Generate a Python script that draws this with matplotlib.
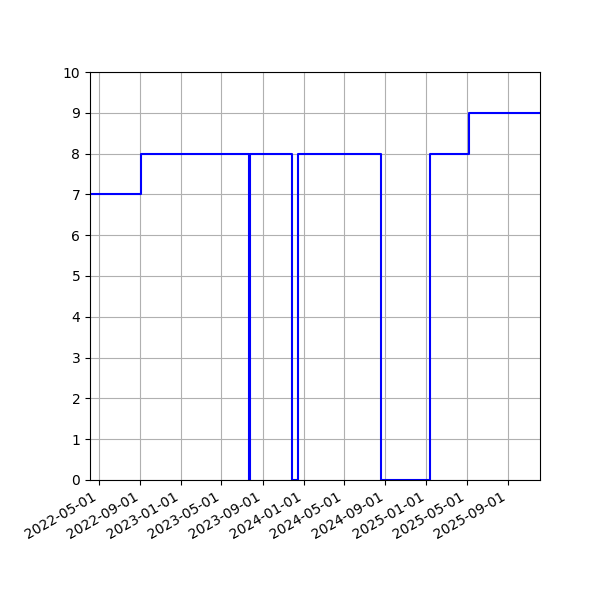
import matplotlib
matplotlib.use("Agg")
import matplotlib.pyplot as plt
import matplotlib.dates as mdates
import pandas as pd

# moments where the value changes (step, value holds until next date)
change_dates = ["2022-04-04", "2022-09-02", "2023-07-22", "2023-07-24",
                "2023-11-28", "2023-12-14", "2024-08-19", "2025-01-12",
                "2025-05-08", "2025-12-06"]
values = [7, 8, 0, 8, 0, 8, 0, 8, 9, 9]

tick_dates = ["2022-05-01", "2022-09-01", "2023-01-01", "2023-05-01",
              "2023-09-01", "2024-01-01", "2024-05-01", "2024-09-01",
              "2025-01-01", "2025-05-01", "2025-09-01"]

dates = pd.to_datetime(change_dates)

fig, ax = plt.subplots(figsize=(6, 6), dpi=100)
ax.step(dates, values, where="post", color="blue", linewidth=1.5)

ax.set_xlim(dates[0], dates[-1])
ax.set_ylim(0, 10)
ax.set_yticks(range(0, 11))
ax.set_xticks(pd.to_datetime(tick_dates))
ax.xaxis.set_major_formatter(mdates.DateFormatter("%Y-%m-%d"))
ax.grid(True)

fig.autofmt_xdate()
fig.subplots_adjust(left=0.15, right=0.9, top=0.88, bottom=0.2)
fig.savefig("out.png")
